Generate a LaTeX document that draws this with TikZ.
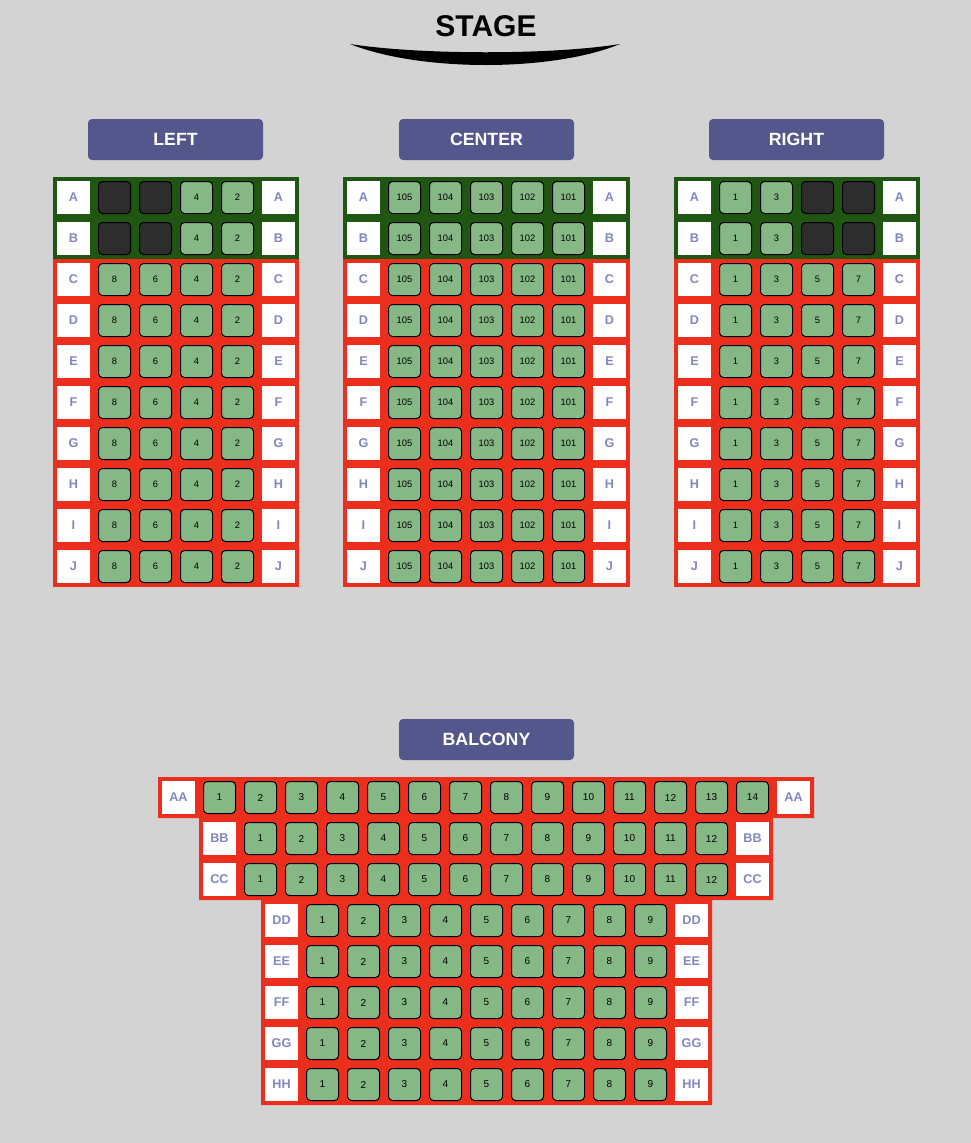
\documentclass[tikz,border=0pt]{standalone}
\usepackage{fontspec}
\setmainfont{Liberation Sans}
\usepackage{xcolor}
\usepackage{tikz}
\usetikzlibrary{positioning}
\definecolor{hallgrey}{RGB}{211,211,211}
\definecolor{hallblue}{RGB}{83,87,140}
\definecolor{hallred}{RGB}{236,46,28}
\definecolor{hallgreen}{RGB}{31,86,18}
\definecolor{seatgreen}{RGB}{134,184,134}
\definecolor{seatdark}{RGB}{45,45,45}
\definecolor{rowtext}{RGB}{130,135,192}

\begin{document}
\begin{tikzpicture}[
    x=0.75pt, y=-0.75pt,
    header/.style={rectangle, fill=hallblue, rounded corners=3pt, minimum width=131.25pt, minimum height=30.75pt, text=white, font=\bfseries\fontsize{13.3}{13.3}\selectfont},
    rowlabel/.style={rectangle, fill=white, minimum size=24.75pt, inner sep=0pt, text=rowtext, font=\bfseries\fontsize{9.5}{9.5}\selectfont},
    seat/.style={rectangle, draw=black, line width=0.75pt, fill=seatgreen, rounded corners=3pt, minimum size=24pt, inner sep=0pt, font=\fontsize{7}{7}\selectfont},
    taken/.style={seat, fill=seatdark},
    bseat/.style={seat, font=\fontsize{7.5}{7.5}\selectfont}
]

\fill[hallgrey] (0,0) rectangle (971,1143);
\useasboundingbox (0,0) rectangle (971,1143);

% stage
\node[font=\bfseries\fontsize{22.5}{22.5}\selectfont] (stage) at (486,26.5) {STAGE};
\fill (350,44) .. controls (420,55) and (552,55) .. (620,44) .. controls (552,72) and (420,72) .. (350,44) -- cycle;

% section headers
\node[header] (hleft) at (175.5,139.5) {LEFT};
\node[header] (hcenter) at (486.5,139.5) {CENTER};
\node[header] (hright) at (796.5,139.5) {RIGHT};
\node[header] (hbalcony) at (486.5,739.5) {BALCONY};

% block backgrounds
\fill[hallgreen] (53,177) rectangle (299,259);
\fill[hallred] (53,259) rectangle (299,587);
\fill[hallgreen] (343,177) rectangle (630,259);
\fill[hallred] (343,259) rectangle (630,587);
\fill[hallgreen] (674,177) rectangle (920,259);
\fill[hallred] (674,259) rectangle (920,587);
\fill[hallred] (158,777) -- (814,777) -- (814,818) -- (773,818) -- (773,900) -- (712,900)
    -- (712,1105) -- (261,1105) -- (261,900) -- (199,900) -- (199,818) -- (158,818) -- cycle;

% row labels of the main floor
\foreach \r [count=\i from 0] in {A,B,C,D,E,F,G,H,I,J} {
    \pgfmathsetmacro\ry{197.5+41*\i}
    \node[rowlabel] (l\r w) at (73.5,\ry) {\r};
    \node[rowlabel] (l\r e) at (278.5,\ry) {\r};
    \node[rowlabel] (c\r w) at (363.5,\ry) {\r};
    \node[rowlabel] (c\r e) at (609.5,\ry) {\r};
    \node[rowlabel] (r\r w) at (694.5,\ry) {\r};
    \node[rowlabel] (r\r e) at (899.5,\ry) {\r};
    \foreach \n [count=\k from 0] in {105,104,103,102,101}
        \node[seat] (c\r\n) at ({404.5+41*\k},\ry) {\n};
}

% left and right blocks, rows A-B
\foreach \r [count=\i from 0] in {A,B} {
    \pgfmathsetmacro\ry{197.5+41*\i}
    \node[taken] (l\r8) at (114.5,\ry) {};
    \node[taken] (l\r6) at (155.5,\ry) {};
    \node[seat] (l\r4) at (196.5,\ry) {4};
    \node[seat] (l\r2) at (237.5,\ry) {2};
    \node[seat] (r\r1) at (735.5,\ry) {1};
    \node[seat] (r\r3) at (776.5,\ry) {3};
    \node[taken] (r\r5) at (817.5,\ry) {};
    \node[taken] (r\r7) at (858.5,\ry) {};
}

% left and right blocks, rows C-J
\foreach \r [count=\i from 2] in {C,D,E,F,G,H,I,J} {
    \pgfmathsetmacro\ry{197.5+41*\i}
    \foreach \n [count=\k from 0] in {8,6,4,2}
        \node[seat] (l\r\n) at ({114.5+41*\k},\ry) {\n};
    \foreach \n [count=\k from 0] in {1,3,5,7}
        \node[seat] (r\r\n) at ({735.5+41*\k},\ry) {\n};
}

% balcony
\node[rowlabel] (bAAw) at (178.5,797.5) {AA};
\node[rowlabel] (bAAe) at (793.5,797.5) {AA};
\foreach \n in {1,...,14}
    \node[bseat] (bAA\n) at ({219.5+41*(\n-1)},797.5) {\n};

\foreach \r [count=\i from 0] in {BB,CC} {
    \pgfmathsetmacro\ry{838.5+41*\i}
    \node[rowlabel] (b\r w) at (219.5,\ry) {\r};
    \node[rowlabel] (b\r e) at (752.5,\ry) {\r};
    \foreach \n in {1,...,12}
        \node[bseat] (b\r\n) at ({260.5+41*(\n-1)},\ry) {\n};
}

\foreach \r [count=\i from 0] in {DD,EE,FF,GG,HH} {
    \pgfmathsetmacro\ry{920.5+41*\i}
    \node[rowlabel] (b\r w) at (281.5,\ry) {\r};
    \node[rowlabel] (b\r e) at (691.5,\ry) {\r};
    \foreach \n in {1,...,9}
        \node[bseat] (b\r\n) at ({322.5+41*(\n-1)},\ry) {\n};
}

\end{tikzpicture}
\end{document}
